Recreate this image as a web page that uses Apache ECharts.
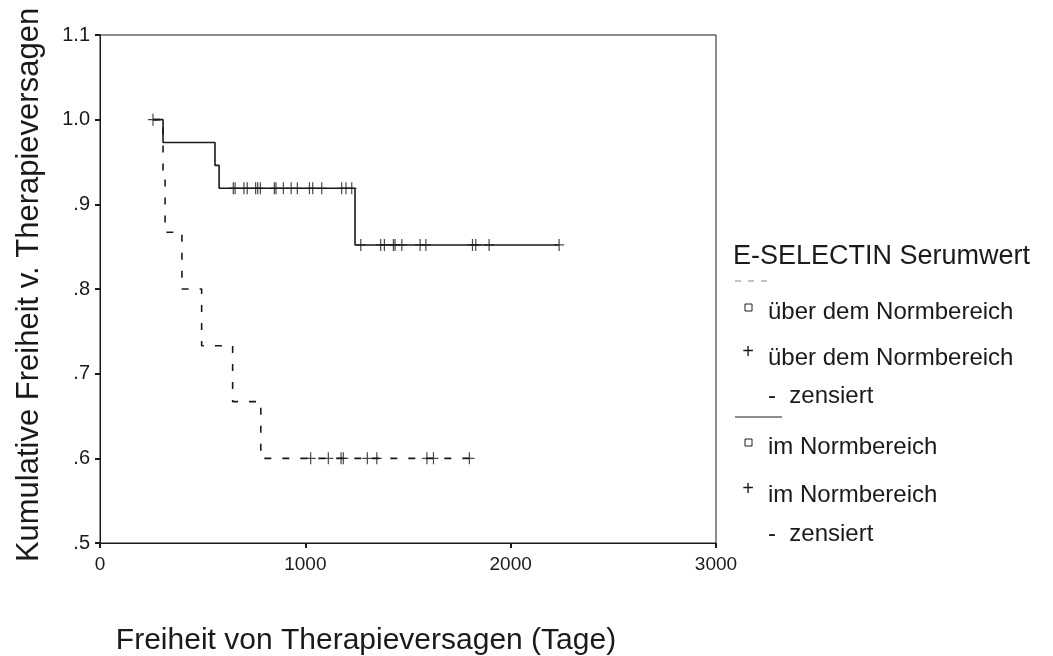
<!DOCTYPE html>
<html>
<head>
<meta charset="utf-8">
<script src="https://cdn.jsdelivr.net/npm/echarts@6/dist/echarts.min.js"></script>
<style>html,body{margin:0;padding:0;background:#fff}#c{width:1053px;height:656px}</style>
</head>
<body>
<div id="c"></div>
<script>
// ---- data ----
const xTickLabels = ['0', '1000', '2000', '3000'];
const yTickLabels = ['.5', '.6', '.7', '.8', '.9', '1.0', '1.1'];
// im Normbereich (solid)
const normStart = 258;
const normEventDays = [307, 560, 580, 1242];
const normLevels = [1.0, 0.973, 0.946, 0.919, 0.852];
const normEnd = 2236;
const normCensDays = [258, 649, 658, 701, 717, 758, 768, 781, 849, 857, 893, 931, 961, 1020, 1036, 1080, 1177, 1198, 1226,
                      1270, 1367, 1385, 1429, 1437, 1470, 1559, 1587, 1814, 1830, 1895, 2236];
// über dem Normbereich (dashed)
const ueberStart = 258;
const ueberEventDays = [307, 317, 399, 495, 646, 783];
const ueberLevels = [1.0, 0.933, 0.867, 0.8, 0.733, 0.667, 0.6];
const ueberEnd = 1799;
const ueberCensDays = [1026, 1112, 1174, 1185, 1302, 1348, 1592, 1624, 1799];

function kmPath(start, events, levels, end) {
  const pts = [[start, levels[0]]];
  events.forEach((d, i) => { pts.push([d, levels[i]]); pts.push([d, levels[i + 1]]); });
  pts.push([end, levels[levels.length - 1]]);
  return pts;
}
function levelAt(day, events, levels) {
  let k = 0;
  events.forEach((d, i) => { if (day >= d) k = i + 1; });
  return levels[k];
}
const normPath = kmPath(normStart, normEventDays, normLevels, normEnd);
const ueberPath = kmPath(ueberStart, ueberEventDays, ueberLevels, ueberEnd);
const normCens = normCensDays.map(d => [d, levelAt(d, normEventDays, normLevels)]);
const ueberCens = ueberCensDays.map(d => [d, levelAt(d, ueberEventDays, ueberLevels)]);

const plus = 'path://M-0.6,-6h1.2v12h-1.2z M-5,-0.6h10v1.2h-10z';
const FONT = '"Liberation Sans", Arial, sans-serif';
const ink = '#1a1a1a';

const chart = echarts.init(document.getElementById('c'), null, {renderer: 'canvas'});
chart.setOption({
  backgroundColor: '#fff',
  animation: false,
  grid: {left: 100, right: 337, top: 35, bottom: 113, show: true, borderColor: ink, borderWidth: 1, backgroundColor: 'transparent'},
  xAxis: {
    type: 'value', min: 0, max: 3000, interval: 1000,
    axisLine: {show: true, lineStyle: {color: ink, width: 1}},
    axisTick: {show: true, length: 5, lineStyle: {color: ink, width: 2}},
    splitLine: {show: false},
    axisLabel: {fontFamily: FONT, fontSize: 19, color: ink, margin: 12,
      formatter: v => xTickLabels[Math.round(v / 1000)]}
  },
  yAxis: {
    type: 'value', min: 0.5, max: 1.1, interval: 0.1,
    axisLine: {show: true, lineStyle: {color: ink, width: 1}},
    axisTick: {show: true, length: 5, lineStyle: {color: ink, width: 2}},
    splitLine: {show: false},
    axisLabel: {fontFamily: FONT, fontSize: 20, color: ink, margin: 10,
      formatter: v => yTickLabels[Math.round((v - 0.5) * 10)]}
  },
  series: [
    {type: 'line', data: normPath, showSymbol: false, symbol: 'none',
      lineStyle: {color: ink, width: 1.6}, z: 3},
    {type: 'line', data: ueberPath, showSymbol: false, symbol: 'none',
      lineStyle: {color: ink, width: 1.6, type: [7, 11]}, z: 3},
    {type: 'scatter', data: normCens, symbol: plus, symbolSize: [10, 12],
      itemStyle: {color: ink}, z: 4},
    {type: 'scatter', data: ueberCens, symbol: plus, symbolSize: [10, 12],
      itemStyle: {color: ink}, z: 4}
  ],
  graphic: [
    {type: 'text', x: 366, y: 641, style: {text: 'Freiheit von Therapieversagen (Tage)', font: '30px ' + FONT, fill: ink, align: 'center', verticalAlign: 'middle'}},
    {type: 'text', x: 14, y: 285, rotation: Math.PI / 2, style: {text: 'Kumulative Freiheit v. Therapieversagen', font: '31px ' + FONT, fill: ink, align: 'center', verticalAlign: 'top'}},
    {type: 'text', x: 733, y: 257, style: {text: 'E-SELECTIN Serumwert', font: '27px ' + FONT, fill: ink, verticalAlign: 'middle'}},
    {type: 'line', shape: {x1: 735, y1: 281, x2: 772, y2: 281}, style: {stroke: '#888', lineWidth: 1, lineDash: [6, 7]}},
    {type: 'rect', shape: {x: 745, y: 304, width: 7, height: 7}, style: {stroke: ink, fill: 'none', lineWidth: 1}},
    {type: 'text', x: 768, y: 312, style: {text: 'über dem Normbereich', font: '24px ' + FONT, fill: ink, verticalAlign: 'middle'}},
    {type: 'text', x: 748, y: 352, style: {text: '+', font: '20px ' + FONT, fill: ink, align: 'center', verticalAlign: 'middle'}},
    {type: 'text', x: 768, y: 358, style: {text: 'über dem Normbereich', font: '24px ' + FONT, fill: ink, verticalAlign: 'middle'}},
    {type: 'text', x: 768, y: 396, style: {text: '-  zensiert', font: '24px ' + FONT, fill: ink, verticalAlign: 'middle'}},
    {type: 'line', shape: {x1: 735, y1: 417, x2: 782, y2: 417}, style: {stroke: ink, lineWidth: 1}},
    {type: 'rect', shape: {x: 745, y: 439, width: 7, height: 7}, style: {stroke: ink, fill: 'none', lineWidth: 1}},
    {type: 'text', x: 768, y: 447, style: {text: 'im Normbereich', font: '24px ' + FONT, fill: ink, verticalAlign: 'middle'}},
    {type: 'text', x: 748, y: 489, style: {text: '+', font: '20px ' + FONT, fill: ink, align: 'center', verticalAlign: 'middle'}},
    {type: 'text', x: 768, y: 495, style: {text: 'im Normbereich', font: '24px ' + FONT, fill: ink, verticalAlign: 'middle'}},
    {type: 'text', x: 768, y: 534, style: {text: '-  zensiert', font: '24px ' + FONT, fill: ink, verticalAlign: 'middle'}}
  ]
});
</script>
</body>
</html>
